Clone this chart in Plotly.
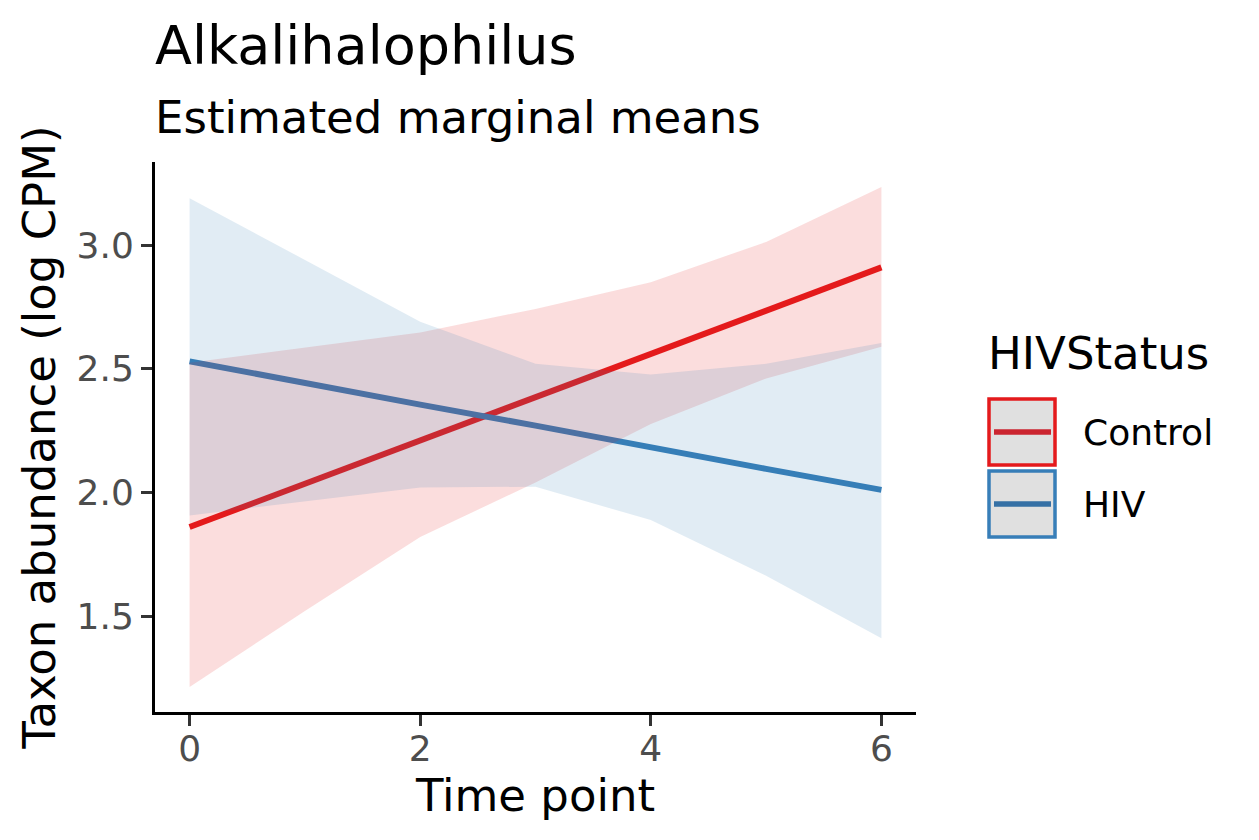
import plotly.graph_objects as go

# emmeans output
time_points = [0, 1, 2, 3, 4, 5, 6]

control_emmean = [1.86, 2.035, 2.21, 2.385, 2.56, 2.735, 2.91]
control_lower = [1.213, 1.52, 1.82, 2.04, 2.277, 2.461, 2.589]
control_upper = [2.524, 2.585, 2.647, 2.742, 2.85, 3.013, 3.235]

hiv_emmean = [2.53, 2.44, 2.355, 2.27, 2.18, 2.095, 2.01]
hiv_lower = [1.907, 1.965, 2.02, 2.023, 1.888, 1.663, 1.41]
hiv_upper = [3.19, 2.94, 2.69, 2.52, 2.477, 2.52, 2.604]

groups = ["Control", "HIV"]
y_ticks = [1.5, 2.0, 2.5, 3.0]
x_ticks = [0, 2, 4, 6]

RED = "#E41A1C"
BLUE = "#377EB8"
FONT = "DejaVu Sans"

# page body has an 8px margin, so the figure is a bit smaller and shifted
OFF = 8
W, H = 1259 - OFF, 840 - OFF
L, T = 155 - OFF, 162 - OFF
PW, PH = 761, 550
R, B = W - L - PW, H - T - PH


# positions below are in screen pixels
def px2x(px):
    return (px - 155) / PW


def px2y(py):
    return (712 - py) / PH


def expand(vals, mult=0.05):
    lo, hi = min(vals), max(vals)
    pad = (hi - lo) * mult
    return [lo - pad, hi + pad]


xr = expand(time_points)
yr = expand(control_lower + control_upper + hiv_lower + hiv_upper)

fig = go.Figure()

# lines go underneath the ribbons (like geom_line before geom_ribbon)
fig.add_trace(go.Scatter(x=time_points, y=control_emmean, mode="lines",
                         line=dict(color=RED, width=6), showlegend=False))
fig.add_trace(go.Scatter(x=time_points, y=hiv_emmean, mode="lines",
                         line=dict(color=BLUE, width=6), showlegend=False))

# ribbons on an overlaying subplot so they sit on top
fig.add_trace(go.Scatter(x=time_points + time_points[::-1],
                         y=control_upper + control_lower[::-1],
                         fill="toself", fillcolor="rgba(228,26,28,0.15)",
                         line=dict(width=0), mode="lines",
                         xaxis="x2", yaxis="y2", showlegend=False))
fig.add_trace(go.Scatter(x=time_points + time_points[::-1],
                         y=hiv_upper + hiv_lower[::-1],
                         fill="toself", fillcolor="rgba(55,126,184,0.15)",
                         line=dict(width=0), mode="lines",
                         xaxis="x2", yaxis="y2", showlegend=False))

axis_common = dict(showgrid=False, zeroline=False, showline=True,
                   linecolor="black", linewidth=3, ticks="outside",
                   ticklen=11, tickwidth=3, tickcolor="#333333",
                   tickfont=dict(family=FONT, size=36, color="#4D4D4D"))

fig.update_layout(
    width=W, height=H,
    margin=dict(l=L, r=R, t=T, b=B),
    paper_bgcolor="white", plot_bgcolor="white",
    font=dict(family=FONT, color="black"),
    xaxis=dict(range=xr, tickvals=x_ticks, ticklabelstandoff=-8,
               title=dict(text="Time point", font=dict(size=45), standoff=10),
               **axis_common),
    yaxis=dict(range=yr, tickvals=y_ticks,
               ticktext=[f"{v:.1f}" for v in y_ticks],
               title=dict(text="Taxon abundance (log CPM)", font=dict(size=45), standoff=7),
               **axis_common),
    xaxis2=dict(range=xr, overlaying="x", visible=False),
    yaxis2=dict(range=yr, overlaying="y", visible=False),
    showlegend=False,
)

annotations = [
    dict(text="Alkalihalophilus", x=px2x(153), y=px2y(46), font=dict(size=54)),
    dict(text="Estimated marginal means", x=px2x(153), y=px2y(117), font=dict(size=45)),
    dict(text="HIVStatus", x=px2x(986), y=px2y(353), font=dict(size=45)),
]

# hand-made legend keys (box + line) like ggplot's
colors = [RED, BLUE]
key_lines = ["#CB2530", "#3570A5"]
key_tops = [397, 469]
for name, col, kcol, top in zip(groups, colors, key_lines, key_tops):
    fig.add_shape(type="rect", xref="paper", yref="paper",
                  x0=px2x(989), x1=px2x(1055), y0=px2y(top + 68), y1=px2y(top + 2),
                  fillcolor="#E0E0E0", line=dict(color=col, width=3.5))
    mid = top + 35
    fig.add_shape(type="line", xref="paper", yref="paper",
                  x0=px2x(994), x1=px2x(1051), y0=px2y(mid), y1=px2y(mid),
                  line=dict(color=kcol, width=5.5))
    annotations.append(dict(text=name, x=px2x(1081), y=px2y(mid), font=dict(size=36)))

for a in annotations:
    fig.add_annotation(xref="paper", yref="paper", xanchor="left", yanchor="middle",
                       showarrow=False, **a)

fig.write_html("out.html")
